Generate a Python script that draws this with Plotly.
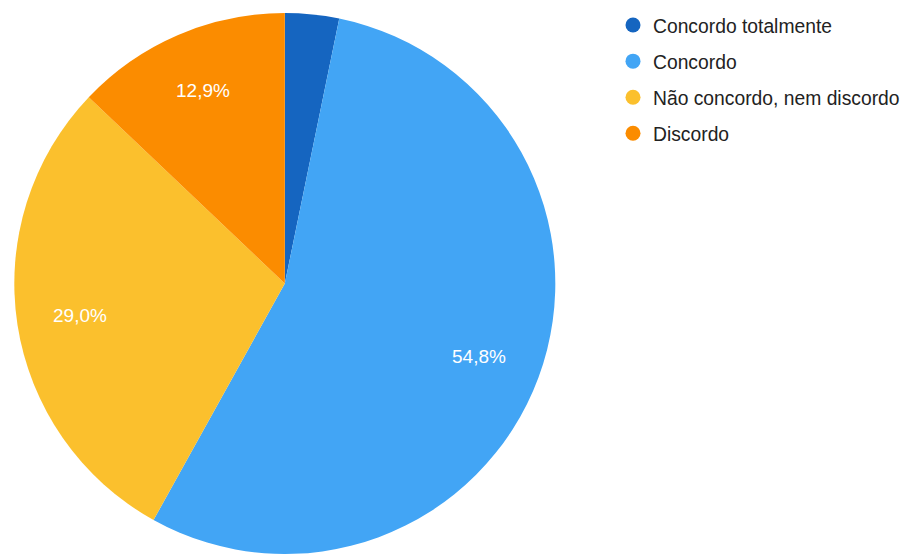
import math
import plotly.graph_objects as go

# Survey answers (number of respondents per option)
categories = ["Concordo totalmente", "Concordo", "Não concordo, nem discordo", "Discordo"]
counts = [1, 17, 9, 4]
colors = ["#1565C0", "#42A5F5", "#FBC02D", "#FB8C00"]

total = sum(counts)

W, H = 905, 554
M_TOP = 13
FONT = "Liberation Sans, Arial, sans-serif"

# pie geometry in paper units (plot area spans the whole width, 13px top margin)
pie_dom_x = [2 / W, 574 / W]
plot_h = H - M_TOP
radius_px = min((pie_dom_x[1] - pie_dom_x[0]) * W, plot_h) / 2
cx = sum(pie_dom_x) / 2
cy = 0.5
LABEL_R = 0.775  # labels sit at this fraction of the radius

fig = go.Figure()
fig.add_trace(go.Pie(
    labels=categories,
    values=counts,
    sort=False,
    direction="clockwise",
    rotation=0,
    marker=dict(colors=colors, line=dict(width=0)),
    textinfo="none",
    hoverinfo="label+percent",
    showlegend=False,
    domain=dict(x=pie_dom_x, y=[0, 1]),
))

# percentage labels at the middle of each slice; small slices stay unlabeled
cum = 0
for c in counts:
    share = c / total
    mid = (cum + c / 2) / total * 2 * math.pi
    cum += c
    if share < 0.05:
        continue
    rr = LABEL_R * radius_px
    fig.add_annotation(
        x=cx + rr * math.sin(mid) / W,
        y=cy + rr * math.cos(mid) / plot_h,
        xref="paper", yref="paper",
        text=f"{share * 100:.1f}%".replace(".", ","),
        showarrow=False,
        font=dict(family=FONT, size=19, color="white"),
        xanchor="center", yanchor="middle",
    )

# legend entries with round markers
for i, (name, col) in enumerate(zip(categories, colors)):
    fig.add_trace(go.Scatter(
        x=[None], y=[None], mode="markers", name=name,
        legendgroup=f"g{i}",
        marker=dict(symbol="circle", size=15, color=col),
        hoverinfo="skip",
    ))

fig.update_layout(
    width=W, height=H,
    margin=dict(l=0, r=0, t=M_TOP, b=0),
    paper_bgcolor="white",
    plot_bgcolor="white",
    separators=",.",
    font=dict(family=FONT, size=19, color="#222222"),
    xaxis=dict(visible=False),
    yaxis=dict(visible=False),
    legend=dict(
        x=620 / W, xanchor="left",
        y=1 + 7 / plot_h, yanchor="top",
        font=dict(family=FONT, size=19.3, color="#222222"),
        tracegroupgap=8,
        itemwidth=30,
        bgcolor="rgba(0,0,0,0)",
    ),
)

fig.write_html("out.html")
